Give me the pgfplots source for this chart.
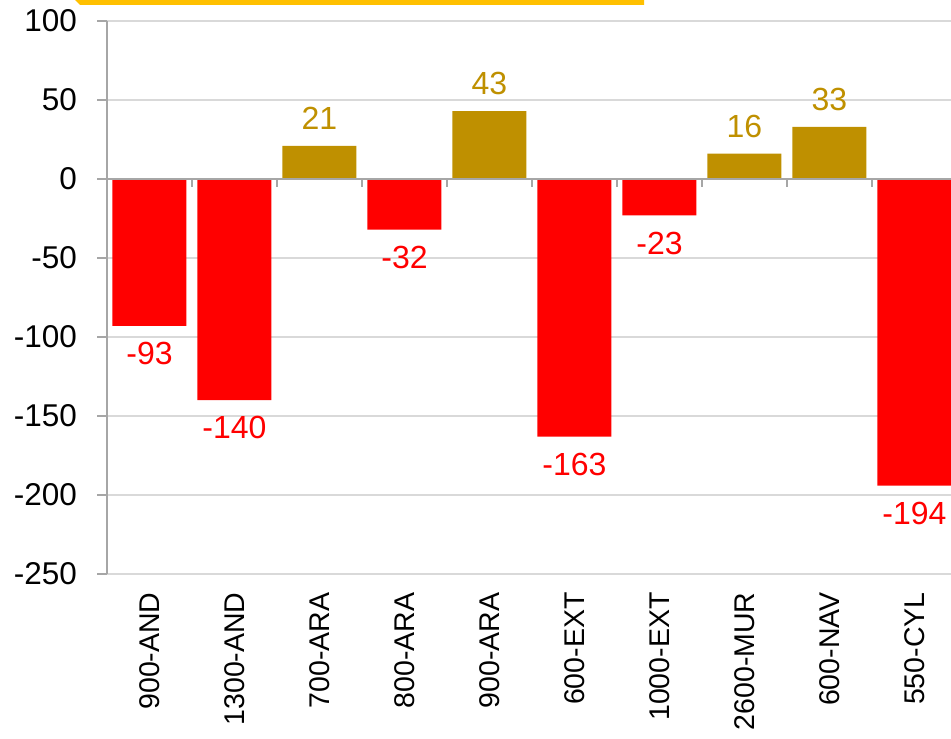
\documentclass[border=0pt]{standalone}
\usepackage{pgfplots}
\pgfplotsset{compat=1.18}
\usepackage{fontspec}
\setmainfont{Liberation Sans}
\definecolor{barred}{RGB}{255,0,0}
\definecolor{bargold}{RGB}{191,144,0}
\definecolor{gridcol}{RGB}{217,217,217}
\definecolor{axiscol}{RGB}{166,166,166}
\definecolor{stripe}{RGB}{255,192,0}
\begin{document}
\begin{tikzpicture}
\fill[stripe] (37.5pt,369pt) -- (322pt,369pt) -- (322pt,366.5pt) -- (40pt,366.5pt) -- cycle;
\begin{axis}[
  at={(53.5pt,82pt)}, anchor=south west,
  scale only axis, width=422pt, height=276.5pt,
  xmin=-0.5, xmax=9.43, ymin=-250, ymax=100,
  axis lines*=left,
  x axis line style={draw=none},
  y axis line style={draw=axiscol, line width=0.8pt},
  ytick={-250,-200,...,100},
  ymajorgrids, grid style={draw=gridcol, line width=0.6pt},
  tick align=outside,
  major tick length=5pt,
  ytick style={draw=axiscol, line width=0.7pt},
  xtick={0,...,9},
  xticklabels={900-AND,1300-AND,700-ARA,800-ARA,900-ARA,600-EXT,1000-EXT,2600-MUR,600-NAV,550-CYL},
  xtick style={draw=none},
  x tick label style={rotate=90, anchor=east, inner sep=0pt, font=\fontsize{14.25}{16}\selectfont},
  xticklabel shift=4pt,
  y tick label style={font=\fontsize{15.75}{18}\selectfont, xshift=-6.5pt},
  /pgf/number format/assume math mode=true,
  ybar, bar width=37pt,
  nodes near coords,
  every node near coord/.append style={font=\fontsize{16}{18}\selectfont, inner sep=8pt},
]
\addplot[fill=barred, draw=none, bar shift=0pt, every node near coord/.append style={color=barred}]
  coordinates {(0,-93) (1,-140) (3,-32) (5,-163) (6,-23) (9,-194)};
\addplot[fill=bargold, draw=none, bar shift=0pt, every node near coord/.append style={color=bargold}]
  coordinates {(2,21) (4,43) (7,16) (8,33)};
\draw[axiscol, line width=0.8pt] (axis cs:-0.5,0) -- (axis cs:9.43,0);
\pgfplotsinvokeforeach{0.5,1.5,2.5,3.5,4.5,5.5,6.5,7.5,8.5}{
  \draw[axiscol, line width=0.7pt] (axis cs:#1,0) -- ([yshift=-4pt]axis cs:#1,0);
}
\end{axis}
\pgfresetboundingbox
\path[use as bounding box] (0,0) rectangle (475.5pt,369pt);
\end{tikzpicture}
\end{document}
